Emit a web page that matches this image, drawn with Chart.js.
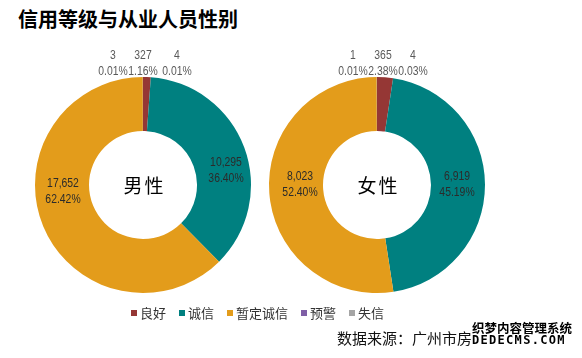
<!DOCTYPE html>
<html>
<head>
<meta charset="utf-8">
<script src="https://cdn.jsdelivr.net/npm/chart.js@4.4.0/dist/chart.umd.min.js"></script>
<style>
    html, body { margin: 0; padding: 0; background: #fff; }
    body { width: 582px; height: 358px; position: relative; overflow: hidden;
           font-family: "Noto Sans CJK SC", "Noto Sans", sans-serif; }
    #title { position: absolute; left: 18px; top: 4px; font-size: 20px; font-weight: bold; color: #000; }
    .chart-box { position: absolute; top: 40px; width: 260px; height: 270px; }
    #male-box { left: 0; }
    #female-box { left: 260px; }
    #legend { position: absolute; left: 131px; top: 303px; font-size: 13px; color: #333; white-space: nowrap; }
    #legend span.item { margin-right: 13px; }
    #legend i { display: inline-block; width: 6px; height: 6px; margin-right: 3px; vertical-align: 2px; }
    #source { position: absolute; left: 337px; top: 327px; font-size: 15px; color: #111; }
    #mark { position: absolute; left: 472px; top: 321px; font-weight: bold; color: #000; line-height: 13px;
            text-shadow: -1px 0 #fff, 1px 0 #fff, 0 -1px #fff, 0 1px #fff; }
    #mark .l1 { font-size: 12.5px; }
    #mark .l2 { font-size: 12px; letter-spacing: 1.3px; font-family: "DejaVu Sans Mono", monospace; }
</style>
</head>
<body>
<div id="title">信用等级与从业人员性别</div>
<div class="chart-box" id="male-box"><canvas id="male-chart"></canvas></div>
<div class="chart-box" id="female-box"><canvas id="female-chart"></canvas></div>
<div id="legend"></div>
<div id="source">数据来源：广州市房</div>
<div id="mark"><div class="l1">织梦内容管理系统</div><div class="l2">DEDECMS.COM</div></div>

<script>
// Credit levels (legend order)
const categories = ['良好', '诚信', '暂定诚信', '预警', '失信'];
const colors = ['#953735', '#008080', '#E39C1B', '#7F5FA6', '#A5A5A5'];

// Headcounts by gender
const maleValues = [327, 10295, 17652, 3, 4];
const femaleValues = [365, 6919, 8023, 1, 4];

// Label offsets from donut centre, per slice (style only)
const maleLabelPos = [[0, -122], [83, -15], [-80, 6], [-30, -122], [34, -122]];
const femaleLabelPos = [[6, -122], [80, -1], [-77, -1], [-24, -122], [36, -122]];

const labelFont = '13px "Liberation Sans", Arial, sans-serif';

// narrow text (Excel uses a condensed face here)
function narrowText(ctx, text, x, y) {
    ctx.save();
    ctx.translate(x, y);
    ctx.scale(0.8, 1);
    ctx.fillText(text, 0, 0);
    ctx.restore();
}

/**
 * Draws value / percent labels and the centre title
 */
const donutLabels = {
    id: 'donutLabels',
    afterDatasetsDraw(chart, args, opts) {
        const ctx = chart.ctx;
        const meta = chart.getDatasetMeta(0);
        const data = chart.data.datasets[0].data;
        const total = data.reduce((a, b) => a + b, 0);
        const cx = meta.data[0].x;
        const cy = meta.data[0].y;

        ctx.save();
        ctx.textAlign = 'center';
        ctx.textBaseline = 'middle';

        data.forEach((v, i) => {
            const pct = (v / total * 100).toFixed(2) + '%';
            const p = opts.positions[i];
            const x = cx + p[0];
            const y = cy + p[1];
            const inside = v / total > 0.1;
            ctx.font = labelFont;
            ctx.fillStyle = inside ? '#2b2b2b' : '#595959';
            narrowText(ctx, v.toLocaleString('en-US'), x, y - 8);
            narrowText(ctx, pct, x, y + 8);
        });

        // centre text
        ctx.font = '19px "Noto Sans CJK SC", sans-serif';
        ctx.fillStyle = '#000';
        const chars = opts.center.split('');
        ctx.fillText(chars[0], cx - 10, cy + 1);
        ctx.fillText(chars[1], cx + 11, cy + 1);
        ctx.restore();
    }
};

function makeDonut(id, values, positions, centerText, padding) {
    return new Chart(document.getElementById(id), {
        type: 'doughnut',
        data: {
            labels: categories,
            datasets: [{
                data: values,
                backgroundColor: colors,
                borderWidth: 0
            }]
        },
        options: {
            responsive: true,
            maintainAspectRatio: false,
            animation: false,
            cutout: '50%',
            layout: { padding: padding },
            plugins: {
                legend: { display: false },
                tooltip: { enabled: false },
                donutLabels: { positions: positions, center: centerText }
            }
        },
        plugins: [donutLabels]
    });
}

makeDonut('male-chart', maleValues, maleLabelPos, '男性', { left: 35, right: 9, top: 37, bottom: 17 });
makeDonut('female-chart', femaleValues, femaleLabelPos, '女性', { left: 9, right: 35, top: 37, bottom: 17 });

// Legend
const legend = document.getElementById('legend');
categories.forEach((c, i) => {
    const item = document.createElement('span');
    item.className = 'item';
    item.innerHTML = '<i style="background:' + colors[i] + '"></i>' + c;
    legend.appendChild(item);
});
</script>
</body>
</html>
